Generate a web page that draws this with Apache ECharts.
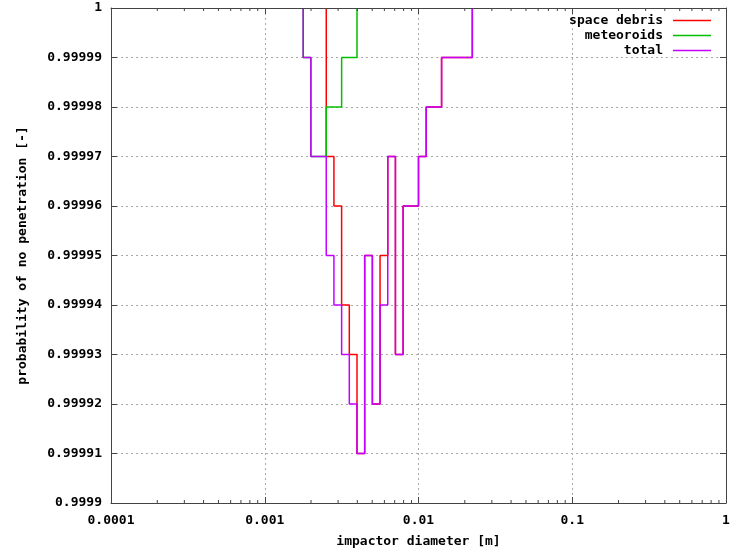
<!DOCTYPE html>
<html>
<head>
<meta charset="utf-8">
<script src="https://cdn.jsdelivr.net/npm/echarts@6/dist/echarts.min.js"></script>
<style>
  html, body { margin: 0; padding: 0; background: #fff; }
  #chart { width: 744px; height: 550px; }
</style>
</head>
<body>
<div id="chart"></div>
<script>
// Step edges (impactor diameter, m) and the probability that holds from each edge onward.
// Every curve starts at probability 1 for the smallest impactors.
const debrisEdges = [0.002512, 0.002818, 0.003162, 0.003548, 0.003981, 0.004467, 0.005012,
                     0.005623, 0.00631, 0.007079, 0.007943, 0.01, 0.01122, 0.01413, 0.02239];
const debrisProb  = [0.99997, 0.99996, 0.99994, 0.99993, 0.99991, 0.99995, 0.99992,
                     0.99995, 0.99997, 0.99993, 0.99996, 0.99997, 0.99998, 0.99999, 1];

const meteoroidEdges = [0.001778, 0.001995, 0.002512, 0.003162, 0.003981];
const meteoroidProb  = [0.99999, 0.99997, 0.99998, 0.99999, 1];

const totalEdges = [0.001778, 0.001995, 0.002512, 0.002818, 0.003162, 0.003548, 0.003981,
                    0.004467, 0.005012, 0.005623, 0.00631, 0.007079, 0.007943, 0.01,
                    0.01122, 0.01413, 0.02239];
const totalProb  = [0.99999, 0.99997, 0.99995, 0.99994, 0.99993, 0.99992, 0.99991,
                    0.99995, 0.99992, 0.99994, 0.99997, 0.99993, 0.99996, 0.99997,
                    0.99998, 0.99999, 1];

const seriesNames = ['space debris', 'meteoroids', 'total'];
const seriesColors = ['#ff0000', '#00c000', '#c400ff'];

// Axis ranges
const xMin = 0.0001, xMax = 1;
const yMin = 0.9999, yMax = 1, yStep = 0.00001;

// Minor tick positions (2..9 in each decade) for the logarithmic axis
const minorTicks = [];
for (let d = xMin; d < xMax * 0.999; d *= 10) {
  for (let k = 2; k <= 9; k++) minorTicks.push(+(d * k).toPrecision(3));
}

function stepData(edges, probs) {
  const pts = [[edges[0], 1]];
  edges.forEach((e, i) => pts.push([e, probs[i]]));
  return pts;
}

const FONT = 'DejaVu Sans Mono';
const axisColor = '#444';
const textStyle = { fontFamily: FONT, fontWeight: 'bold', fontSize: 13, color: '#000' };

const chart = echarts.init(document.getElementById('chart'), null, { renderer: 'canvas' });

const lineSeries = [
  stepData(debrisEdges, debrisProb),
  stepData(meteoroidEdges, meteoroidProb),
  stepData(totalEdges, totalProb)
].map((data, i) => ({
  name: seriesNames[i],
  type: 'line',
  step: 'end',
  data: data,
  showSymbol: false,
  symbol: 'none',
  color: seriesColors[i],
  lineStyle: { width: 1.5, color: seriesColors[i] },
  z: 3,
  animation: false
}));

chart.setOption({
  animation: false,
  textStyle: { fontFamily: FONT },
  grid: { left: 111, right: 18, top: 8, bottom: 47, containLabel: false, outerBoundsMode: 'none' },
  legend: {
    orient: 'vertical',
    right: 33,
    top: 13,
    align: 'right',
    padding: 0,
    itemGap: 0,
    itemWidth: 38,
    itemHeight: 1.5,
    icon: 'rect',
    data: seriesNames,
    textStyle: Object.assign({}, textStyle, { lineHeight: 15, padding: [0, 5, 0, 0] })
  },
  xAxis: [
    {
      type: 'log',
      logBase: 10,
      min: xMin,
      max: xMax,
      name: 'impactor diameter [m]',
      nameLocation: 'middle',
      nameGap: 32,
      nameTextStyle: textStyle,
      axisLine: { lineStyle: { color: axisColor, width: 1 } },
      axisTick: { inside: true, length: 6, lineStyle: { color: axisColor } },
      axisLabel: Object.assign({}, textStyle, {
        margin: 11,
        formatter: v => String(+(+v).toPrecision(3))
      }),
      splitLine: { show: true, lineStyle: { color: '#a8a8a8', type: [2, 3], width: 1 } }
    },
    {
      type: 'log',
      logBase: 10,
      min: xMin,
      max: xMax,
      position: 'top',
      z: 10,
      axisLine: { lineStyle: { color: axisColor, width: 1 } },
      axisTick: { inside: true, length: 6, lineStyle: { color: axisColor } },
      axisLabel: { show: false },
      splitLine: { show: false }
    }
  ],
  yAxis: [
    {
      type: 'value',
      min: yMin,
      max: yMax,
      interval: yStep,
      name: 'probability of no penetration [-]',
      nameLocation: 'middle',
      nameGap: 82,
      nameTextStyle: textStyle,
      axisLine: { show: true, lineStyle: { color: axisColor, width: 1 } },
      axisTick: { show: true, inside: true, length: 6, lineStyle: { color: axisColor } },
      axisLabel: Object.assign({}, textStyle, {
        margin: 9,
        formatter: v => String(+(+v).toFixed(5))
      }),
      splitLine: { show: true, lineStyle: { color: '#a8a8a8', type: [2, 3], width: 1 } }
    },
    {
      type: 'value',
      min: yMin,
      max: yMax,
      interval: yStep,
      position: 'right',
      z: 10,
      axisLine: { show: true, lineStyle: { color: axisColor, width: 1 } },
      axisTick: { show: true, inside: true, length: 6, lineStyle: { color: axisColor } },
      axisLabel: { show: false },
      splitLine: { show: false }
    }
  ],
  series: lineSeries.concat([{
    type: 'custom',
    name: 'minor ticks',
    xAxisIndex: 0,
    yAxisIndex: 0,
    silent: true,
    clip: false,
    z: 10,
    data: minorTicks.map(v => [v, yMin]),
    renderItem: function (params, api) {
      const v = api.value(0);
      const b = api.coord([v, yMin]);
      const t = api.coord([v, yMax]);
      const st = { stroke: axisColor, lineWidth: 1 };
      return {
        type: 'group',
        children: [
          { type: 'line', shape: { x1: b[0], y1: b[1], x2: b[0], y2: b[1] - 3 }, style: st },
          { type: 'line', shape: { x1: t[0], y1: t[1], x2: t[0], y2: t[1] + 3 }, style: st }
        ]
      };
    }
  }])
});
</script>
</body>
</html>
